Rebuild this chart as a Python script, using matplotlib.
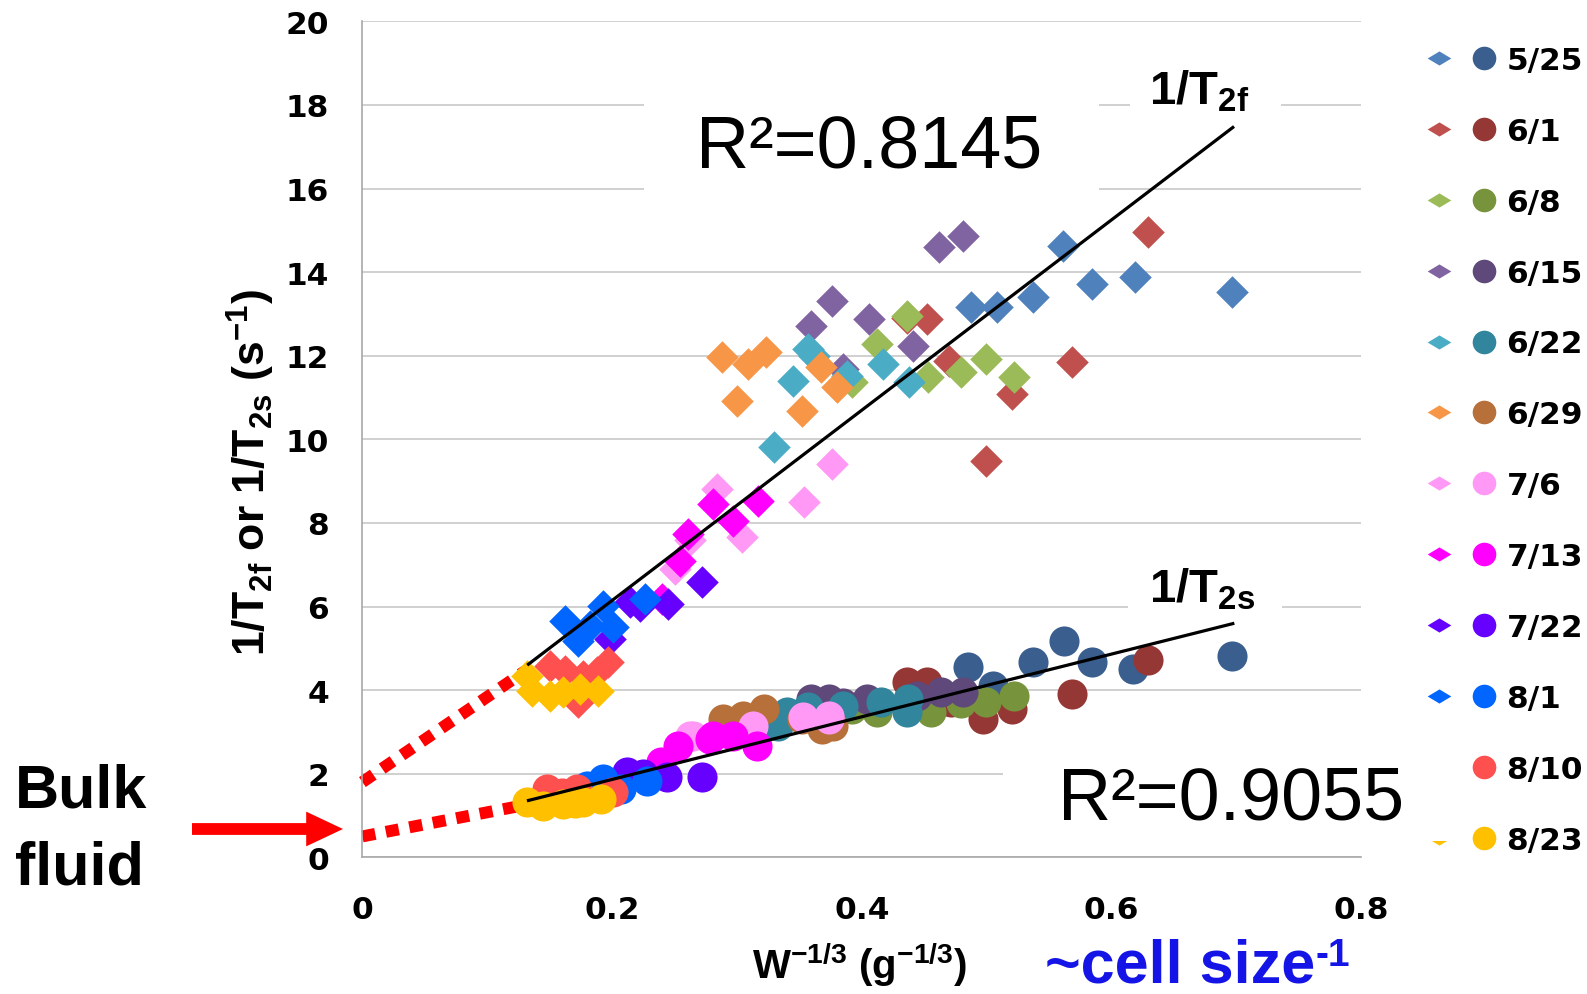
import numpy as np
import matplotlib
matplotlib.use('Agg')
import matplotlib.pyplot as plt
from matplotlib.lines import Line2D
from matplotlib.legend_handler import HandlerTuple
from matplotlib.patches import Rectangle, FancyArrowPatch
from matplotlib.path import Path

plt.rcParams['mathtext.fontset'] = 'custom'
plt.rcParams['mathtext.rm'] = 'Liberation Sans'
plt.rcParams['mathtext.bf'] = 'Liberation Sans:bold'
plt.rcParams['mathtext.it'] = 'Liberation Sans:italic'

################################################################################
# data
################################################################################
dates = ['5/25', '6/1', '6/8', '6/15', '6/22', '6/29', '7/6', '7/13', '7/22', '8/1', '8/10', '8/23']
fast_colors = ['#4F81BD', '#C0504D', '#9BBB59', '#8064A2', '#4BACC6', '#F79646',
               '#FF99F5', '#FF00FF', '#6600FF', '#0066FF', '#FF5050', '#FFC000']
slow_colors = ['#3A5F8F', '#953735', '#77933C', '#5F497A', '#31859C', '#B8703A',
               '#FF99F5', '#FF00FF', '#6600FF', '#0066FF', '#FF5050', '#FFC000']

# 1/T2f (diamonds)
fast_x = [[0.487, 0.508, 0.537, 0.561, 0.584, 0.619, 0.696],
          [0.436, 0.452, 0.470, 0.499, 0.520, 0.568, 0.629],
          [0.392, 0.412, 0.436, 0.453, 0.479, 0.499, 0.522],
          [0.359, 0.376, 0.385, 0.406, 0.441, 0.462, 0.481],
          [0.330, 0.345, 0.357, 0.362, 0.388, 0.417, 0.438],
          [0.288, 0.300, 0.309, 0.323, 0.352, 0.367, 0.380],
          [0.250, 0.262, 0.284, 0.304, 0.354, 0.376],
          [0.240, 0.254, 0.261, 0.281, 0.297, 0.317],
          [0.198, 0.214, 0.222, 0.245, 0.272],
          [0.162, 0.173, 0.182, 0.193, 0.201, 0.226],
          [0.150, 0.162, 0.173, 0.177, 0.188, 0.197],
          [0.132, 0.136, 0.150, 0.161, 0.174, 0.189]]
fast_y = [[13.17, 13.17, 13.40, 14.62, 13.72, 13.88, 13.52],
          [12.90, 12.88, 11.87, 9.48, 11.09, 11.85, 14.95],
          [11.37, 12.28, 12.95, 11.49, 11.61, 11.92, 11.49],
          [12.71, 13.31, 11.68, 12.87, 12.23, 14.60, 14.86],
          [9.81, 11.39, 12.16, 12.00, 11.52, 11.80, 11.37],
          [11.97, 10.91, 11.80, 12.08, 10.67, 11.72, 11.24],
          [6.90, 7.60, 8.81, 7.66, 8.50, 9.41],
          [6.18, 7.09, 7.74, 8.45, 8.05, 8.52],
          [5.22, 6.11, 6.02, 6.06, 6.59],
          [5.65, 5.18, 5.54, 6.02, 5.51, 6.18],
          [4.58, 4.46, 3.72, 4.34, 4.43, 4.67],
          [4.34, 3.98, 3.86, 3.96, 4.03, 3.98]]

# 1/T2s (circles)
slow_x = [[0.485, 0.505, 0.537, 0.562, 0.584, 0.617, 0.696],
          [0.436, 0.452, 0.471, 0.497, 0.520, 0.568, 0.629],
          [0.392, 0.412, 0.436, 0.455, 0.479, 0.499, 0.522],
          [0.359, 0.374, 0.385, 0.404, 0.444, 0.463, 0.481],
          [0.333, 0.340, 0.357, 0.385, 0.415, 0.436, 0.437],
          [0.289, 0.300, 0.305, 0.322, 0.352, 0.368, 0.377],
          [0.262, 0.265, 0.313, 0.353, 0.374, 0.374],
          [0.239, 0.253, 0.278, 0.281, 0.297, 0.316],
          [0.212, 0.225, 0.244, 0.272],
          [0.180, 0.193, 0.207, 0.228],
          [0.148, 0.160, 0.172, 0.201],
          [0.132, 0.145, 0.161, 0.170, 0.177, 0.191]]
slow_y = [[4.55, 4.10, 4.67, 5.18, 4.67, 4.50, 4.82],
          [4.20, 4.20, 3.72, 3.31, 3.55, 3.91, 4.71],
          [3.55, 3.48, 3.62, 3.48, 3.70, 3.72, 3.86],
          [3.79, 3.79, 3.70, 3.79, 3.87, 3.96, 3.96],
          [3.15, 3.48, 3.60, 3.63, 3.72, 3.48, 3.79],
          [3.31, 3.20, 3.39, 3.55, 3.30, 3.07, 3.15],
          [2.91, 2.90, 3.15, 3.36, 3.31, 3.39],
          [2.28, 2.67, 2.83, 2.90, 2.91, 2.67],
          [2.04, 2.00, 1.92, 1.92],
          [1.70, 1.88, 1.64, 1.83],
          [1.63, 1.55, 1.63, 1.56],
          [1.33, 1.23, 1.28, 1.30, 1.33, 1.40]]

# trend lines and the dotted extrapolation to bulk fluid
fit_x = [0.133, 0.697]
fit_fast = [4.62, 17.46]
fit_slow = [1.36, 5.59]
bulk_x = [0.0, 0.13]
bulk_fast = [1.80, 4.45]
bulk_slow = [0.50, 1.25]

x_ticks = [0, 0.2, 0.4, 0.6, 0.8]
x_tick_labels = ['0', '0.2', '0.4', '0.6', '0.8']
y_ticks = list(range(0, 21, 2))

################################################################################
# figure, pixel helpers (pixels from top-left of the 1587x995 canvas)
################################################################################
W, H = 1587, 995
fig = plt.figure(figsize=(W / 100, H / 100), dpi=100)

def fx(px):
    return px / W

def fy(py):
    return 1 - py / H

ax = fig.add_axes([fx(362.4), fy(858.3), 999 / W, 836 / H])

for i in range(len(dates)):
    ax.scatter(fast_x[i], fast_y[i], marker='D', s=275, color=fast_colors[i],
               linewidths=0, zorder=3, clip_on=False)
    ax.scatter(slow_x[i], slow_y[i], marker='o', s=470, color=slow_colors[i],
               linewidths=0, zorder=3, clip_on=False)

ax.plot(fit_x, fit_fast, color='black', lw=2.3, zorder=5)
ax.plot(fit_x, fit_slow, color='black', lw=2.3, zorder=5)
ax.plot(bulk_x, bulk_fast, color='red', lw=8.6, linestyle=(0, (1.1, 0.9)),
        dash_capstyle='butt', zorder=2, clip_on=False)
ax.plot(bulk_x, bulk_slow, color='red', lw=8.6, linestyle=(0, (1.1, 0.9)),
        dash_capstyle='butt', zorder=2, clip_on=False)

ax.set_xlim(0, 0.8)
ax.set_ylim(0, 20)
ax.set_xticks(x_ticks)
ax.set_xticklabels(x_tick_labels)
ax.set_yticks(y_ticks)
ax.yaxis.grid(True, color='#C8C8C8', lw=1.2)
ax.set_axisbelow(True)
for side in ['top', 'right']:
    ax.spines[side].set_visible(False)
for side in ['left', 'bottom']:
    ax.spines[side].set_color('#A8A8A8')
    ax.spines[side].set_linewidth(1.2)
ax.tick_params(axis='x', length=0, pad=27)
ax.tick_params(axis='y', length=0, pad=24)
for lab in ax.get_xticklabels() + ax.get_yticklabels():
    lab.set_fontfamily('DejaVu Sans')
    lab.set_fontweight('bold')
    lab.set_fontsize(22.5)

# y label (Arial-like bold, subscripts through mathtext)
ax.text(-0.1115, 0.461, r'$\mathbf{1/T_{2f}\ or\ 1/T_{2s}\ (s^{-1})}$',
        rotation=90, ha='center', va='center', fontsize=32, transform=ax.transAxes)

# x label
fig.text(fx(859), fy(979), r'$\mathbf{W^{-1/3}\ (g^{-1/3})}$', ha='center', va='baseline',
         fontsize=29)

################################################################################
# legend (diamond + circle per date)
################################################################################
flat_diamond = Path([(-1, 0), (0, 0.6), (1, 0), (0, -0.6), (-1, 0)], [1, 2, 2, 2, 79])
handles = []
for i in range(len(dates)):
    hd = Line2D([], [], ls='none', marker=flat_diamond, markersize=17,
                markerfacecolor=fast_colors[i], markeredgecolor='none')
    hc = Line2D([], [], ls='none', marker='o', markersize=17,
                markerfacecolor=slow_colors[i], markeredgecolor='none')
    handles.append((hd, hc))
leg = fig.legend(handles, dates, handler_map={tuple: HandlerTuple(ndivide=None, pad=0)},
                 loc='upper left', bbox_to_anchor=(fx(1416.5), fy(47)),
                 bbox_transform=fig.transFigure, frameon=False, borderpad=0,
                 borderaxespad=0, handlelength=2.88, handletextpad=0.0,
                 labelspacing=1.34, prop={'family': 'DejaVu Sans', 'weight': 'bold', 'size': 22.5})

################################################################################
# white boxes behind annotations, then annotation texts
################################################################################
def white_box(x0, y0, x1, y1):
    fig.add_artist(Rectangle((fx(x0), fy(y1)), (x1 - x0) / W, (y1 - y0) / H,
                             transform=fig.transFigure, facecolor='white',
                             edgecolor='none', zorder=6))

white_box(644, 92, 1099, 200)
white_box(1130, 60, 1281, 116)
white_box(1128, 560, 1282, 616)
white_box(1003, 745, 1458, 842)

fig.text(fx(696), fy(167), 'R²=0.8145', family='Liberation Sans', fontsize=53,
         va='baseline', zorder=7)
fig.text(fx(1058), fy(820), 'R²=0.9055', family='Liberation Sans', fontsize=53,
         va='baseline', zorder=7)
fig.text(fx(1149), fy(104), r'$\mathbf{1/T_{2f}}$', fontsize=34, va='baseline', zorder=7)
fig.text(fx(1149), fy(603), r'$\mathbf{1/T_{2s}}$', fontsize=34, va='baseline', zorder=7)

fig.text(fx(15), fy(808), 'Bulk', family='Liberation Sans', fontweight='bold',
         fontsize=44, va='baseline')
fig.text(fx(15), fy(885), 'fluid', family='Liberation Sans', fontweight='bold',
         fontsize=44, va='baseline')

arrow = FancyArrowPatch((fx(192), fy(830)), (fx(343), fy(830)), transform=fig.transFigure,
                        arrowstyle='simple,head_length=0.53,head_width=0.5,tail_width=0.17',
                        mutation_scale=50, color='red', lw=0, shrinkA=0, shrinkB=0)
fig.add_artist(arrow)

cell = fig.text(fx(1045), fy(983), '~cell size', family='Liberation Sans', fontweight='bold',
                fontsize=44, color='#1414E6', va='baseline')
ax.annotate('-1', xy=(1.0, 1.02), xycoords=cell, ha='left', va='top', fontsize=28,
            family='Liberation Sans', fontweight='bold', color='#1414E6',
            annotation_clip=False)

fig.savefig('out.png', dpi=100)
